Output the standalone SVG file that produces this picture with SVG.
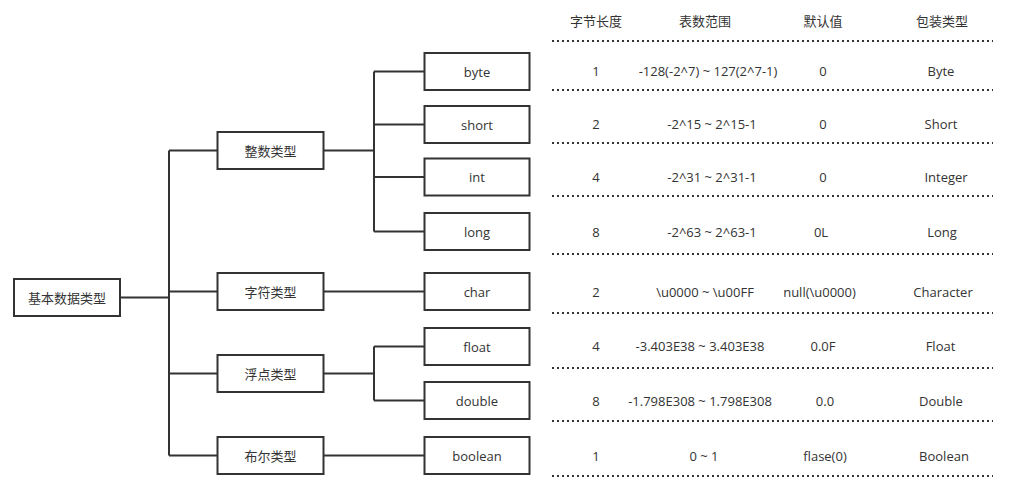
<svg xmlns="http://www.w3.org/2000/svg" width="1021" height="500" viewBox="0 0 1021 500">
<style>
.box{fill:#fff;stroke:#333;stroke-width:2}
.ln{fill:none;stroke:#333;stroke-width:2}
.dot{fill:none;stroke:#333;stroke-width:2;stroke-dasharray:2 3}
text{font-family:"Open Sans","Noto Sans CJK SC",sans-serif;font-size:13px;fill:#333;text-anchor:middle;dominant-baseline:central}
</style>
<rect width="1021" height="500" fill="#fff"/>
<g id="connectors">
<path class="ln" d="M121 297.5H169M169 150.5V455.5M169 150.5H217.5M169 291.5H217.5M169 373.5H217.5M169 455.5H217.5"/>
<path class="ln" d="M323.5 150.5H374M374 71.5V231.5M374 71.5H424.5M374 124.5H424.5M374 177H424.5M374 231.5H424.5"/>
<path class="ln" d="M323.5 291.5H424.5"/>
<path class="ln" d="M323.5 373.5H374M374 346.5V400.5M374 346.5H424.5M374 400.5H424.5"/>
<path class="ln" d="M323.5 455.5H424.5"/>
</g>
<g id="root"><rect class="box" x="14" y="279" width="106" height="37"/><text x="67" y="297.5">基本数据类型</text></g>
<g id="int-type"><rect class="box" x="217.5" y="132" width="106" height="37"/><text x="270.5" y="150.5">整数类型</text></g>
<g id="char-type"><rect class="box" x="217.5" y="273" width="106" height="37"/><text x="270.5" y="291.5">字符类型</text></g>
<g id="float-type"><rect class="box" x="217.5" y="355" width="106" height="37"/><text x="270.5" y="373.5">浮点类型</text></g>
<g id="bool-type"><rect class="box" x="217.5" y="437" width="106" height="37"/><text x="270.5" y="455.5">布尔类型</text></g>
<g id="byte"><rect class="box" x="424.5" y="53" width="105" height="37"/><text x="477" y="71.5">byte</text></g>
<g id="short"><rect class="box" x="424.5" y="106" width="105" height="37"/><text x="477" y="124.5">short</text></g>
<g id="int"><rect class="box" x="424.5" y="158.5" width="105" height="37"/><text x="477" y="177">int</text></g>
<g id="long"><rect class="box" x="424.5" y="213" width="105" height="37"/><text x="477" y="231.5">long</text></g>
<g id="char"><rect class="box" x="424.5" y="273" width="105" height="37"/><text x="477" y="291.5">char</text></g>
<g id="float"><rect class="box" x="424.5" y="328" width="105" height="37"/><text x="477" y="346.5">float</text></g>
<g id="double"><rect class="box" x="424.5" y="382" width="105" height="37"/><text x="477" y="400.5">double</text></g>
<g id="boolean"><rect class="box" x="424.5" y="437" width="105" height="37"/><text x="477" y="455.5">boolean</text></g>
<g id="table">
<path class="dot" d="M552 41H993M552 90H993M552 143H993M552 196H993M552 254H993M552 313H993M552 368H993M552 421H993M552 476H993"/>
<text x="596" y="21">字节长度</text><text x="705" y="21">表数范围</text><text x="823" y="21">默认值</text><text x="942" y="21">包装类型</text>
<text x="596" y="71">1</text><text x="708" y="71">-128(-2^7) ~ 127(2^7-1)</text><text x="823" y="71">0</text><text x="941" y="71">Byte</text>
<text x="596" y="124">2</text><text x="712" y="124">-2^15 ~ 2^15-1</text><text x="823" y="124">0</text><text x="941" y="124">Short</text>
<text x="596" y="177">4</text><text x="712" y="177">-2^31 ~ 2^31-1</text><text x="823" y="177">0</text><text x="946" y="177">Integer</text>
<text x="596" y="232">8</text><text x="712" y="232">-2^63 ~ 2^63-1</text><text x="821" y="232">0L</text><text x="942" y="232">Long</text>
<text x="596" y="292">2</text><text x="705" y="292">\u0000 ~ \u00FF</text><text x="819.5" y="292">null(\u0000)</text><text x="943" y="292">Character</text>
<text x="596" y="346">4</text><text x="700" y="346">-3.403E38 ~ 3.403E38</text><text x="823" y="346">0.0F</text><text x="940.5" y="346">Float</text>
<text x="596" y="401">8</text><text x="700" y="401">-1.798E308 ~ 1.798E308</text><text x="825" y="401">0.0</text><text x="941" y="401">Double</text>
<text x="596" y="456">1</text><text x="704" y="456">0 ~ 1</text><text x="825" y="456">flase(0)</text><text x="944" y="456">Boolean</text>
</g>
</svg>
